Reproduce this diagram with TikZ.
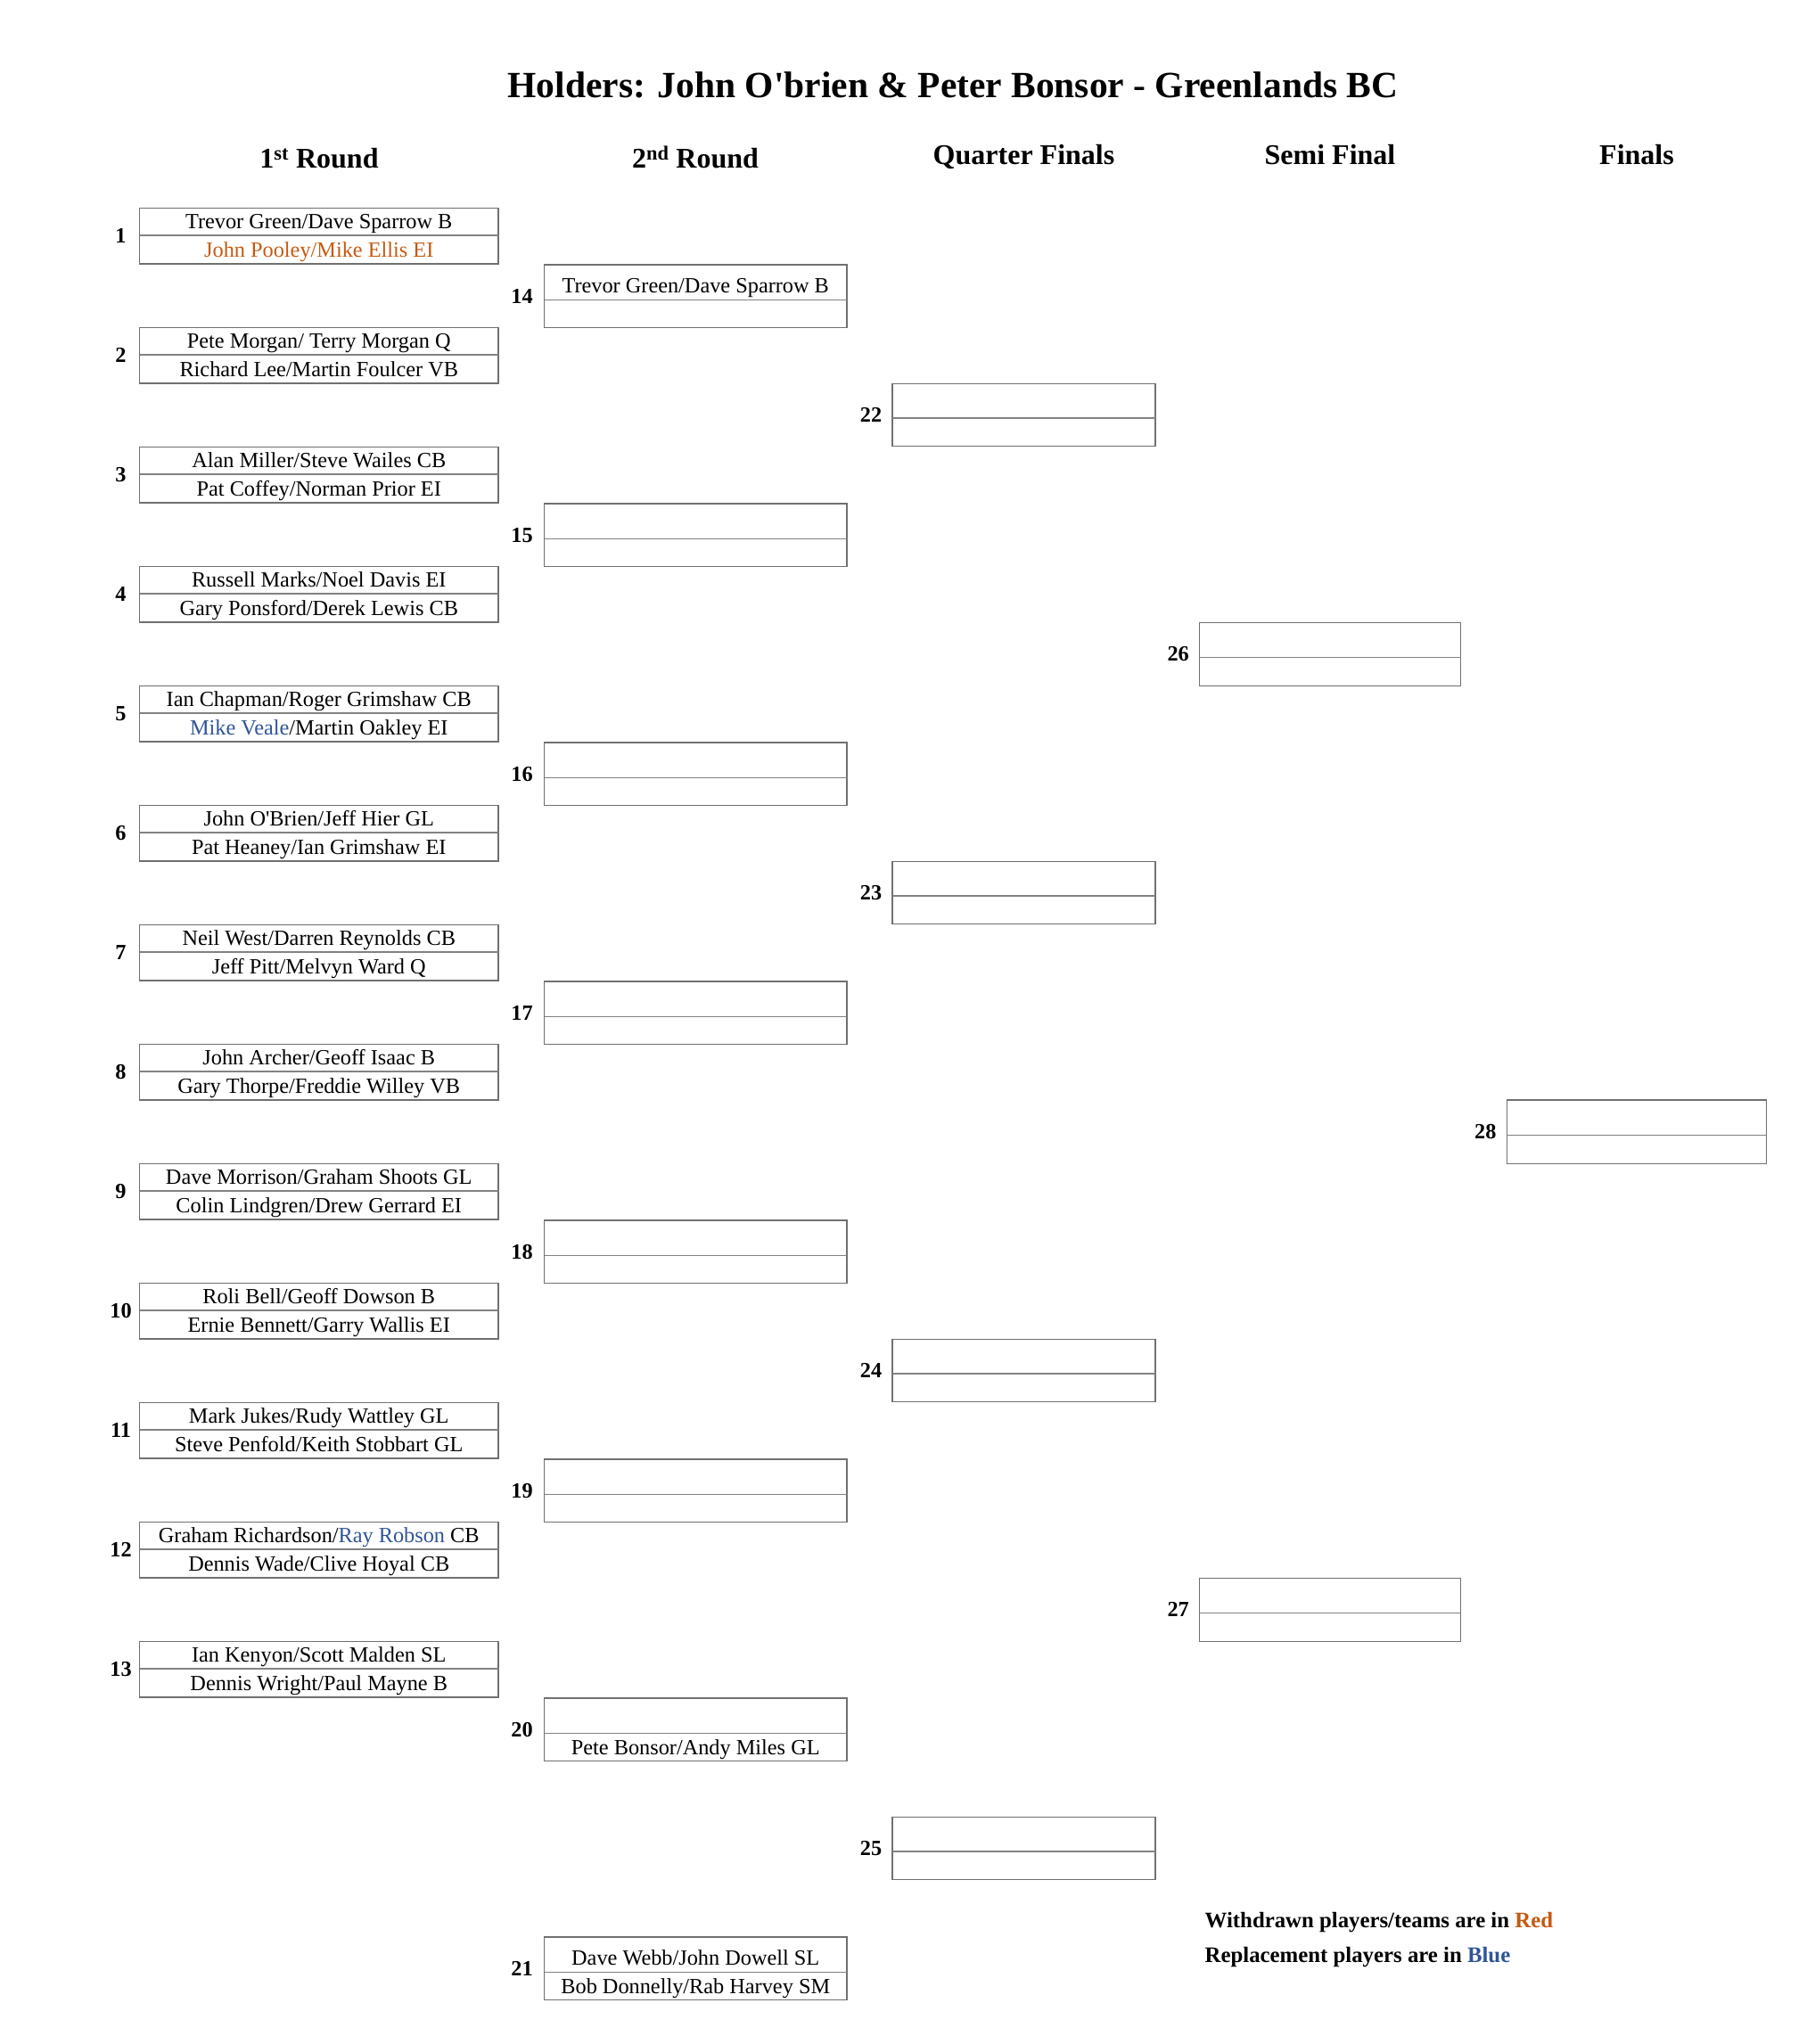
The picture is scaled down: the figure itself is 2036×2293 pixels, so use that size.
\documentclass[tikz,border=0pt]{standalone}
\usepackage{fontspec}
\setmainfont{Liberation Serif}[Ligatures=TeXOff]
\definecolor{wred}{RGB}{197,90,17}
\definecolor{rblue}{RGB}{47,85,151}
\definecolor{boxline}{RGB}{112,112,112}
\definecolor{midline}{RGB}{130,130,130}
\tikzset{
  every node/.style={inner sep=0pt, outer sep=0pt},
  matchbox/.style={draw=boxline, line width=1.5pt, rectangle, anchor=north west},
  divider/.style={draw=midline, line width=1.5pt},
  nametext/.style={anchor=base, font=\fontsize{24.3}{29}\selectfont},
  numlabel/.style={anchor=center, font=\fontsize{24.3}{29}\selectfont\bfseries},
  header/.style={anchor=base, font=\fontsize{32}{38}\selectfont\bfseries},
  legendtext/.style={anchor=base west, font=\fontsize{24.8}{30}\selectfont\bfseries},
}
\newcommand\labeloff{24.5}
% #1 id, #2 label, #3 x, #4 top y, #5 width, #6 height, #7 top row height, #8 top text, #9 bottom text
\newcommand\bracketbox[9]{%
  \node[matchbox, minimum width=#5pt, minimum height=#6pt] (b#1) at (#3,-#4) {};
  \draw[divider] ([yshift=-#7pt]b#1.north west) -- ([yshift=-#7pt]b#1.north east);
  \node[nametext] (b#1t) at ([yshift={-(#7-7.5)*1pt}]b#1.north) {#8};
  \node[nametext] (b#1b) at ([yshift=7.5pt]b#1.south) {#9};
  \node[numlabel] (l#1) at ([xshift=-\labeloff pt]b#1.west) {#2};
}
\newcommand\rone[4]{\bracketbox{#1}{#1}{156.5}{#2}{402.5}{62.7}{30.7}{#3}{#4}}
\newcommand\rtwo[4]{\bracketbox{#1}{#1}{610.5}{#2}{339.5}{70.7}{39.3}{#3}{#4}}
\begin{document}
\begin{tikzpicture}[x=1pt,y=1pt]
\fill[white] (0,0) rectangle (2036,-2293);
\useasboundingbox (0,0) rectangle (2036,-2293);

\node[anchor=base, font=\fontsize{41.5}{48}\selectfont\bfseries] (title) at (1069,-109.3)
  {Holders: John O'brien \& Peter Bonsor - Greenlands BC};

\node[header] (h1) at (358,-189) {1\textsuperscript{st} Round};
\node[header] (h2) at (780,-189) {2\textsuperscript{nd} Round};
\node[header] (h3) at (1148.5,-185) {Quarter Finals};
\node[header] (h4) at (1492,-185) {Semi Final};
\node[header] (h5) at (1836,-185) {Finals};

% First round
\renewcommand\labeloff{21}
\rone{1}{233.5}{Trevor Green/Dave Sparrow B}{\textcolor{wred}{John Pooley/Mike Ellis EI}}
\rone{2}{367.5}{Pete Morgan/ Terry Morgan Q}{Richard Lee/Martin Foulcer VB}
\rone{3}{501.5}{Alan Miller/Steve Wailes CB}{Pat Coffey/Norman Prior EI}
\rone{4}{635.5}{Russell Marks/Noel Davis EI}{Gary Ponsford/Derek Lewis CB}
\rone{5}{769.5}{Ian Chapman/Roger Grimshaw CB}{\textcolor{rblue}{Mike Veale}/Martin Oakley EI}
\rone{6}{903.5}{John O'Brien/Jeff Hier GL}{Pat Heaney/Ian Grimshaw EI}
\rone{7}{1037.5}{Neil West/Darren Reynolds CB}{Jeff Pitt/Melvyn Ward Q}
\rone{8}{1171.5}{John Archer/Geoff Isaac B}{Gary Thorpe/Freddie Willey VB}
\rone{9}{1305.5}{Dave Morrison/Graham Shoots GL}{Colin Lindgren/Drew Gerrard EI}
\rone{10}{1439.5}{Roli Bell/Geoff Dowson B}{Ernie Bennett/Garry Wallis EI}
\rone{11}{1573.5}{Mark Jukes/Rudy Wattley GL}{Steve Penfold/Keith Stobbart GL}
\rone{12}{1707.5}{Graham Richardson/\textcolor{rblue}{Ray Robson} CB}{Dennis Wade/Clive Hoyal CB}
\rone{13}{1841.5}{Ian Kenyon/Scott Malden SL}{Dennis Wright/Paul Mayne B}

% Second round
\renewcommand\labeloff{25}
\rtwo{14}{297}{Trevor Green/Dave Sparrow B}{}
\rtwo{15}{565}{}{}
\rtwo{16}{833}{}{}
\rtwo{17}{1101}{}{}
\rtwo{18}{1369}{}{}
\rtwo{19}{1637}{}{}
\rtwo{20}{1905}{}{Pete Bonsor/Andy Miles GL}
\rtwo{21}{2173}{Dave Webb/John Dowell SL}{Bob Donnelly/Rab Harvey SM}

% Quarter finals
\renewcommand\labeloff{24}
\bracketbox{22}{22}{1001}{430.5}{295}{70.2}{38.6}{}{}
\bracketbox{23}{23}{1001}{966.5}{295}{70.2}{38.6}{}{}
\bracketbox{24}{24}{1001}{1502.5}{295}{70.2}{38.6}{}{}
\bracketbox{25}{25}{1001}{2038.5}{295}{70.2}{38.6}{}{}

% Semi finals
\bracketbox{26}{26}{1345.7}{698.3}{293}{71}{39}{}{}
\bracketbox{27}{27}{1345.7}{1770.3}{293}{71}{39}{}{}

% Final
\bracketbox{28}{28}{1690.3}{1234}{291.4}{71.3}{39.7}{}{}

% Legend
\node[legendtext] (leg1) at (1351.7,-2162.7) {Withdrawn players/teams are in \textcolor{wred}{Red}};
\node[legendtext] (leg2) at (1351.7,-2201.7) {Replacement players are in \textcolor{rblue}{Blue}};
\end{tikzpicture}
\end{document}
